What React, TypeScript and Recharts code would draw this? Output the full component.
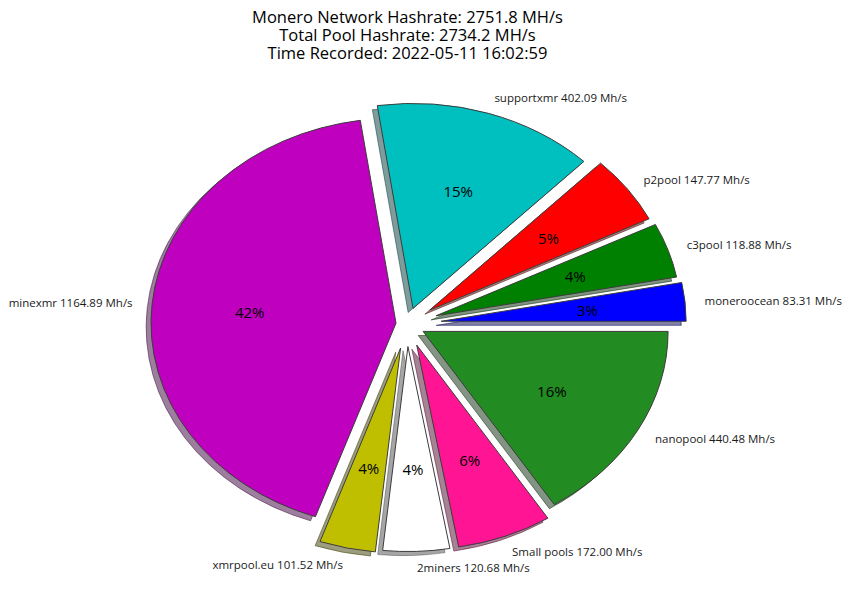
import React from 'react';
import { PieChart, Pie } from 'recharts';

// ---- data ----
const poolNames = ['moneroocean', 'c3pool', 'p2pool', 'supportxmr', 'minexmr', 'xmrpool.eu', '2miners', 'Small pools', 'nanopool'];
const hashrates = [83.31, 118.88, 147.77, 402.09, 1164.89, 101.52, 120.68, 172.0, 440.48];
const titleLines = [
  'Monero Network Hashrate: 2751.8 MH/s',
  'Total Pool Hashrate: 2734.2 MH/s',
  'Time Recorded: 2022-05-11 16:02:59',
];

// ---- styles ----
const sliceColors = ['#0000ff', '#008000', '#ff0000', '#00bfbf', '#bf00bf', '#bfbf00', '#ffffff', '#ff1493', '#228b22'];
const explodeBy = [0.14, 0.125, 0.115, 0.08, 0.045, 0.12, 0.11, 0.11, 0.075];

const data = poolNames.map((name, i) => ({ name, value: hashrates[i], idx: i }));

const W = 850;
const H = 594;
const CX = 407;
const CY = 324;
const RY = 205;
const ASPECT = 245 / 205;
const RAD = Math.PI / 180;
const FONT = "'Open Sans', 'DejaVu Sans', sans-serif";

const getIdx = (p: any): number => {
  if (typeof p.idx === 'number') return p.idx;
  if (p.payload && typeof p.payload.idx === 'number') return p.payload.idx;
  const k = poolNames.indexOf(p.name);
  return k < 0 ? 0 : k;
};

const shiftedCenter = (cx: number, cy: number, r: number, mid: number, e: number) => {
  const rx = r * ASPECT;
  return [cx + e * rx * Math.cos(mid * RAD), cy - e * r * Math.sin(mid * RAD)];
};

const wedgePath = (cx: number, cy: number, r: number, start: number, end: number, e: number) => {
  const rx = r * ASPECT;
  const ry = r;
  const mid = (start + end) / 2;
  const [X, Y] = shiftedCenter(cx, cy, r, mid, e);
  const p = (a: number) => [X + rx * Math.cos(a * RAD), Y - ry * Math.sin(a * RAD)];
  const [x1, y1] = p(start);
  const [x2, y2] = p(end);
  const large = Math.abs(end - start) > 180 ? 1 : 0;
  return `M${X},${Y} L${x1},${y1} A${rx},${ry} 0 ${large} 0 ${x2},${y2} Z`;
};

const shadowColor = (hex: string) => {
  const n = parseInt(hex.slice(1), 16);
  const r = Math.round(((n >> 16) & 255) * 0.3);
  const g = Math.round(((n >> 8) & 255) * 0.3);
  const b = Math.round((n & 255) * 0.3);
  return `rgb(${r},${g},${b})`;
};

const ShadowShape = (props: any) => {
  const idx = getIdx(props);
  const r = props.outerRadius;
  const d = wedgePath(props.cx - 0.02 * r * ASPECT, props.cy + 0.02 * r, r, props.startAngle, props.endAngle, explodeBy[idx]);
  const c = shadowColor(sliceColors[idx]);
  return <path d={d} fill={c} fillOpacity={0.5} stroke={c} strokeOpacity={0.5} strokeWidth={1} />;
};

const WedgeShape = (props: any) => {
  const idx = getIdx(props);
  const d = wedgePath(props.cx, props.cy, props.outerRadius, props.startAngle, props.endAngle, explodeBy[idx]);
  return <path d={d} fill={sliceColors[idx]} stroke="#3c3c3c" strokeWidth={1} strokeLinejoin="round" />;
};

const renderLabel = (props: any) => {
  const idx = getIdx(props);
  const r = props.outerRadius;
  const rx = r * ASPECT;
  const mid = typeof props.midAngle === 'number' ? props.midAngle : (props.startAngle + props.endAngle) / 2;
  const [X, Y] = shiftedCenter(props.cx, props.cy, r, mid, explodeBy[idx]);
  const c = Math.cos(mid * RAD);
  const s = Math.sin(mid * RAD);
  const lx = X + 1.08 * rx * c;
  const ly = Y - 1.08 * r * s;
  const px = X + 0.6 * rx * c;
  const py = Y - 0.6 * r * s;
  const pct = Math.round(props.percent * 100);
  return (
    <g key={`lbl-${idx}`}>
      <text x={lx} y={ly} textAnchor={c > 0 ? 'start' : 'end'} dominantBaseline="central" fontSize={11.5} fill="#1a1a1a" fontFamily={FONT}>
        {`${poolNames[idx]} ${hashrates[idx].toFixed(2)} Mh/s`}
      </text>
      <text x={px} y={py} textAnchor="middle" dominantBaseline="central" fontSize={15} fill="#000" fontFamily={FONT}>
        {`${pct}%`}
      </text>
    </g>
  );
};

export default function App() {
  return (
    <div style={{ position: 'absolute', left: 0, top: 0, width: W, height: H, background: '#fff' }}>
      {titleLines.map((t, i) => (
        <div
          key={t}
          style={{
            position: 'absolute',
            left: 0,
            top: 8 + i * 18,
            width: 815,
            height: 18,
            textAlign: 'center',
            fontFamily: FONT,
            fontSize: 16.5,
            lineHeight: '18px',
            color: '#000',
            whiteSpace: 'nowrap',
          }}
        >
          {t}
        </div>
      ))}
      <PieChart width={W} height={H} margin={{ top: 0, right: 0, bottom: 0, left: 0 }}>
        <Pie
          data={data}
          dataKey="value"
          nameKey="name"
          cx={CX}
          cy={CY}
          innerRadius={0}
          outerRadius={RY}
          startAngle={0}
          endAngle={360}
          isAnimationActive={false}
          shape={ShadowShape}
          inactiveShape={ShadowShape}
          activeShape={ShadowShape}
          label={false}
          labelLine={false}
        />
        <Pie
          data={data}
          dataKey="value"
          nameKey="name"
          cx={CX}
          cy={CY}
          innerRadius={0}
          outerRadius={RY}
          startAngle={0}
          endAngle={360}
          isAnimationActive={false}
          shape={WedgeShape}
          inactiveShape={WedgeShape}
          activeShape={WedgeShape}
          label={renderLabel}
          labelLine={false}
        />
      </PieChart>
    </div>
  );
}
